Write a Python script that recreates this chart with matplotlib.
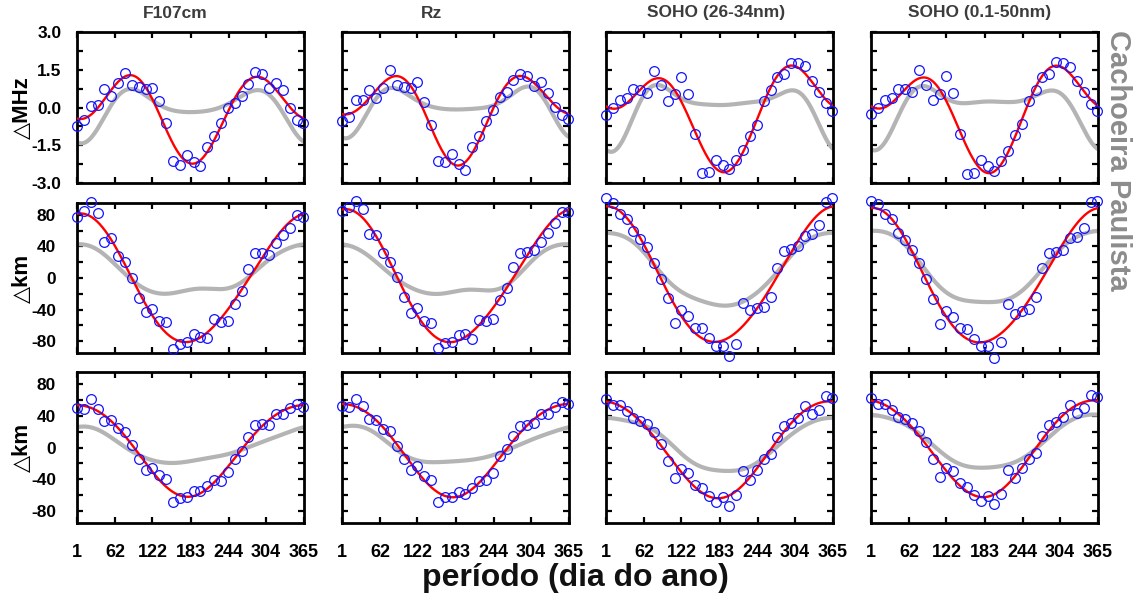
import numpy as np
import matplotlib
matplotlib.use("Agg")
import matplotlib.pyplot as plt
from matplotlib.ticker import MultipleLocator, FixedLocator

plt.rcParams['font.family'] = ['Liberation Sans', 'DejaVu Sans']
plt.rcParams['font.weight'] = 'bold'

# Day of year of each observed mean
DAYS = [1, 12, 23, 34, 45, 56, 67, 78, 89, 100, 111, 122, 133, 144, 155, 166, 177,
        188, 199, 210, 221, 232, 243, 254, 265, 276, 287, 298, 309, 320, 331, 342, 353, 364]
# Days where the reference model curve is tabulated
MODEL_DAYS = [1, 32, 62, 92, 122, 153, 183, 214, 244, 274, 304, 335, 365]

TITLES = ["F107cm", "Rz", "SOHO (26-34nm)", "SOHO (0.1-50nm)"]
XTICKS = [1, 62, 122, 183, 244, 304, 365]

# Row 1: frequency deviation (MHz)
obs_mhz_f107 = [-0.72, -0.48, 0.04, 0.08, 0.72, 0.45, 0.98, 1.39, 0.90, 0.81, 0.73, 0.79, 0.25, -0.62,
                -2.12, -2.28, -1.89, -2.16, -2.33, -1.58, -1.13, -0.61, -0.03, 0.19, 0.45, 0.95,
                1.43, 1.32, 0.77, 0.98, 0.68, -0.03, -0.50, -0.62]
obs_mhz_rz = [-0.54, -0.38, 0.29, 0.29, 0.70, 0.38, 0.78, 1.50, 0.89, 0.82, 0.78, 1.01, 0.23, -0.70,
              -2.13, -2.16, -1.83, -2.25, -2.50, -1.56, -1.14, -0.54, -0.11, 0.42, 0.62, 1.11,
              1.34, 1.25, 0.87, 1.02, 0.56, 0.03, -0.30, -0.45]
obs_mhz_soho2634 = [-0.28, -0.03, 0.30, 0.37, 0.73, 0.70, 0.58, 1.44, 0.89, 0.26, 0.53, 1.23, 0.53,
                    -1.07, -2.62, -2.58, -2.08, -2.29, -2.46, -2.09, -1.70, -1.13, -0.68, 0.26, 0.69,
                    1.22, 1.35, 1.77, 1.77, 1.64, 1.07, 0.60, 0.16, -0.13]
obs_mhz_soho0150 = [-0.24, -0.03, 0.29, 0.37, 0.75, 0.72, 0.62, 1.48, 0.91, 0.28, 0.54, 1.25, 0.56,
                    -1.06, -2.64, -2.62, -2.09, -2.32, -2.52, -2.12, -1.72, -1.11, -0.66, 0.26, 0.68,
                    1.22, 1.35, 1.79, 1.75, 1.62, 1.06, 0.62, 0.13, -0.13]
model_mhz_f107 = [-1.37, -0.95, 0.37, 0.66, 0.34, -0.14, -0.17, -0.10, 0.12, 0.62, 0.56, -0.35, -1.37]
model_mhz_rz = [-1.23, -0.55, 0.50, 0.72, 0.29, -0.05, -0.05, -0.05, 0.05, 0.60, 0.72, 0.02, -1.23]
model_mhz_soho2634 = [-1.70, -1.05, 0.49, 0.82, 0.40, 0.09, 0.13, 0.15, 0.20, 0.53, 0.58, -0.17, -1.70]
model_mhz_soho0150 = [-1.70, -1.00, 0.45, 0.82, 0.35, 0.18, 0.22, 0.24, 0.25, 0.60, 0.55, -0.50, -1.64]

# Row 2: height deviation (km)
obs_km1_f107 = [77.5, 84.6, 95.9, 82.1, 45.6, 50.3, 28.1, 20.5, 0.0, -25.5, -42.7, -39.4, -54.0, -56.1,
                -89.6, -84.2, -80.8, -70.4, -74.1, -75.4, -51.9, -55.7, -54.0, -33.5, -15.9, 10.9,
                31.4, 31.8, 29.7, 44.4, 54.9, 63.2, 80.4, 77.9]
obs_km1_rz = [84.5, 89.9, 97.5, 87.8, 55.7, 54.4, 31.3, 20.7, 1.7, -23.9, -44.1, -37.4, -54.6, -56.7,
              -88.7, -82.4, -80.7, -72.3, -71.4, -77.3, -53.4, -54.6, -51.7, -27.3, -12.2, 13.4,
              31.5, 33.2, 35.3, 45.8, 56.7, 70.2, 84.0, 84.0]
obs_km1_soho2634 = [101.3, 95.0, 81.1, 75.2, 59.2, 49.6, 39.1, 18.9, -0.8, -24.8, -57.6, -39.9, -47.9,
                    -63.0, -63.9, -76.5, -86.1, -85.7, -98.3, -84.0, -31.5, -40.8, -37.8, -36.1, -23.5,
                    13.0, 34.0, 36.6, 40.8, 52.9, 55.9, 67.2, 96.6, 101.3]
obs_km1_soho0150 = [98.0, 93.7, 81.1, 75.2, 56.7, 48.3, 35.7, 18.9, -0.8, -26.5, -58.4, -41.2, -49.6,
                    -63.9, -64.3, -76.9, -86.6, -85.7, -101.7, -80.7, -33.2, -46.2, -41.6, -39.1, -23.9,
                    12.2, 31.5, 33.2, 35.3, 51.3, 52.5, 63.4, 96.6, 97.5]
model_km1_f107 = [43.6, 37.0, 17.0, -4.0, -18.0, -19.0, -15.0, -13.5, -13.0, 0.0, 20.0, 36.0, 41.5]
model_km1_rz = [43.3, 34.0, 16.0, -3.0, -16.0, -20.0, -17.0, -15.0, -15.0, -4.0, 21.0, 38.0, 42.4]
model_km1_soho2634 = [57.0, 51.0, 33.0, 3.0, -17.0, -29.0, -34.5, -32.0, -18.0, 6.0, 34.0, 52.0, 58.0]
model_km1_soho0150 = [60.0, 56.0, 36.0, 7.0, -19.0, -28.0, -31.0, -28.0, -16.0, 10.0, 36.0, 54.0, 59.0]

# Row 3: height deviation (km), second layer
obs_km2_f107 = [49.5, 48.7, 60.5, 48.7, 33.5, 35.2, 25.1, 19.2, 3.6, -14.5, -27.9, -26.3, -34.7, -40.2,
                -68.4, -63.3, -62.1, -55.3, -55.3, -48.6, -41.0, -42.7, -30.5, -14.1, -4.8, 13.3,
                28.1, 29.7, 28.5, 41.9, 42.4, 49.9, 55.0, 50.8]
obs_km2_rz = [52.1, 50.8, 60.9, 52.1, 35.3, 34.9, 23.9, 20.2, 2.5, -14.3, -27.7, -23.9, -35.7, -41.2,
              -68.1, -62.6, -61.8, -56.3, -58.8, -50.4, -42.4, -41.2, -32.4, -10.5, -1.3, 14.7,
              26.5, 28.6, 31.1, 41.6, 41.6, 50.8, 56.7, 54.6]
obs_km2_soho2634 = [61.3, 53.4, 53.8, 45.4, 36.6, 33.6, 29.8, 18.9, 4.6, -16.4, -38.7, -27.3, -31.5,
                    -46.6, -50.4, -60.5, -68.1, -62.6, -73.5, -59.2, -29.8, -40.3, -27.7, -14.7, -7.6,
                    13.0, 26.9, 30.7, 36.6, 51.7, 42.4, 47.5, 65.1, 62.2]
obs_km2_soho0150 = [62.6, 54.6, 54.6, 46.6, 37.8, 35.3, 30.7, 20.2, 6.3, -14.7, -37.4, -25.6, -29.8,
                    -44.1, -49.2, -60.1, -66.8, -61.3, -71.0, -58.0, -28.6, -38.7, -26.1, -14.7, -6.3,
                    14.7, 27.7, 32.4, 37.8, 52.9, 43.7, 49.2, 66.4, 63.0]
model_km2_f107 = [26.5, 23.5, 8.8, -5.9, -16.4, -19.3, -17.2, -13.0, -8.0, -0.4, 8.8, 18.0, 24.4]
model_km2_rz = [26.5, 25.0, 15.0, -5.9, -15.5, -18.9, -17.2, -14.7, -9.7, -0.4, 9.7, 18.0, 25.6]
model_km2_soho2634 = [37.4, 34.0, 27.7, 13.9, -8.0, -24.0, -29.0, -28.6, -18.5, 0.0, 20.0, 33.0, 37.4]
model_km2_soho0150 = [41.6, 36.0, 26.5, 8.8, -11.3, -23.0, -25.6, -22.7, -13.4, 3.8, 25.6, 38.0, 41.6]

ROWS = [
    dict(obs=[obs_mhz_f107, obs_mhz_rz, obs_mhz_soho2634, obs_mhz_soho0150],
         model=[model_mhz_f107, model_mhz_rz, model_mhz_soho2634, model_mhz_soho0150],
         ylabel="\u25b3MHz", ylim=(-3.0, 3.0), major=[-3.0, -1.5, 0.0, 1.5, 3.0], minor=0.75,
         fmt="{:.1f}", nharm=3, ypad=11),
    dict(obs=[obs_km1_f107, obs_km1_rz, obs_km1_soho2634, obs_km1_soho0150],
         model=[model_km1_f107, model_km1_rz, model_km1_soho2634, model_km1_soho0150],
         ylabel="\u25b3km", ylim=(-95, 95), major=[-80, -40, 0, 40, 80], minor=20,
         fmt="{:.0f}", nharm=2, ypad=15),
    dict(obs=[obs_km2_f107, obs_km2_rz, obs_km2_soho2634, obs_km2_soho0150],
         model=[model_km2_f107, model_km2_rz, model_km2_soho2634, model_km2_soho0150],
         ylabel="\u25b3km", ylim=(-95, 95), major=[-80, -40, 0, 40, 80], minor=20,
         fmt="{:.0f}", nharm=2, ypad=15),
]


def harmonic_fit(x, y, nharm, xs):
    """Least-squares fit of annual harmonics, evaluated on xs."""
    w = 2 * np.pi / 365.0

    def design(t):
        t = np.asarray(t, dtype=float)
        cols = [np.ones_like(t)]
        for k in range(1, nharm + 1):
            cols += [np.cos(k * w * t), np.sin(k * w * t)]
        return np.column_stack(cols)

    coef, *_ = np.linalg.lstsq(design(x), np.asarray(y, dtype=float), rcond=None)
    return design(xs) @ coef


W, H = 1133, 599
fig = plt.figure(figsize=(W / 100, H / 100), dpi=100)

col_left = [77, 342, 606, 871]
col_w = 227
row_top = [32, 203, 372]
row_h = [151, 150, 151]

xs = np.linspace(1, 365, 400)

for r, row in enumerate(ROWS):
    for c in range(4):
        ax = fig.add_axes([col_left[c] / W, 1 - (row_top[r] + row_h[r]) / H, col_w / W, row_h[r] / H])
        gray = harmonic_fit(MODEL_DAYS, row["model"][c], 4, xs)
        red = harmonic_fit(DAYS, row["obs"][c], row["nharm"], xs)
        ax.plot(xs, gray, color="#b4b4b4", lw=3.0, zorder=2, solid_capstyle="butt")
        ax.plot(xs, red, color="#ff0000", lw=1.7, zorder=3)
        ax.plot(DAYS, row["obs"][c], linestyle="none", marker="o", ms=7, mfc="none",
                mec="#1414ff", mew=0.9, zorder=4, clip_on=False)

        ax.set_xlim(1, 365)
        ax.set_ylim(*row["ylim"])
        ax.xaxis.set_major_locator(FixedLocator(XTICKS))
        ax.yaxis.set_major_locator(FixedLocator(row["major"]))
        ax.yaxis.set_minor_locator(MultipleLocator(row["minor"]))
        ax.tick_params(which="both", direction="in", top=True, right=True,
                       length=4, width=1.6, color="black")
        for s in ax.spines.values():
            s.set_linewidth(2.0)

        if c == 0:
            ax.set_yticklabels([row["fmt"].format(v) for v in row["major"]],
                               fontsize=12.5, fontweight="bold")
        else:
            ax.set_yticklabels([])
        if r == 2:
            ax.set_xticklabels([str(v) for v in XTICKS], fontsize=13, fontweight="bold")
            ax.tick_params(axis="x", pad=15)
        else:
            ax.set_xticklabels([])
        ax.tick_params(axis="y", pad=row["ypad"])

    yc = 1 - (row_top[r] + row_h[r] / 2) / H
    fig.text(22 / W, yc, row["ylabel"], rotation=90, ha="center", va="center",
             fontsize=16, fontweight="bold")

title_x = [175, 432, 716, 980]
for c, t in enumerate(TITLES):
    fig.text(title_x[c] / W, 1 - 13 / H, t, ha="center", va="center",
             fontsize=12.5, fontweight="bold", color="#3c3c3c")

fig.text(575 / W, 1 - 578 / H, "período (dia do ano)", ha="center", va="center",
         fontsize=23, fontweight="bold", color="#111111")
fig.text(1118 / W, 1 - 160 / H, "Cachoeira Paulista", rotation=270, ha="center", va="center",
         fontsize=21, fontweight="bold", color="#8c8c8c")

fig.savefig("out.png", dpi=100)
